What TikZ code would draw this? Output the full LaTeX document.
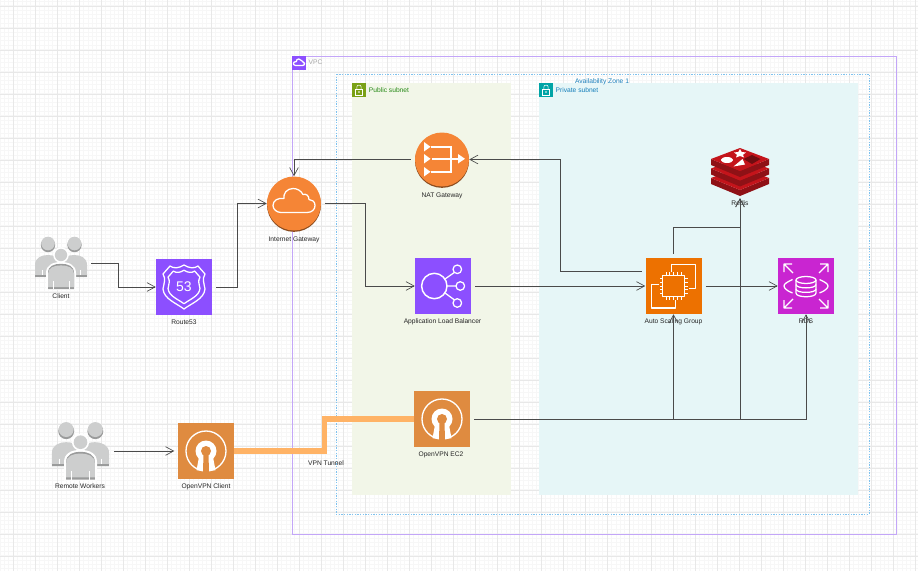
\documentclass[tikz,border=0pt]{standalone}
\usepackage{fontspec}
\usepackage{xcolor}
\setmainfont{Liberation Sans}
\usetikzlibrary{arrows.meta}

\definecolor{gridmajor}{HTML}{E8E8E8}
\definecolor{gridminor}{HTML}{F7F7F7}
\definecolor{awspurple}{HTML}{8C4FFF}
\definecolor{awsorange}{HTML}{F58536}
\definecolor{awsbrown}{HTML}{8A4B1E}
\definecolor{asgorange}{HTML}{ED7100}
\definecolor{rdspink}{HTML}{C925D1}
\definecolor{vpnorange}{HTML}{DF8B40}
\definecolor{tunnelorange}{HTML}{FFB366}
\definecolor{vpcline}{HTML}{C3A6F8}
\definecolor{azblue}{HTML}{7FC2EE}
\definecolor{publicfill}{HTML}{F2F6E8}
\definecolor{publicicon}{HTML}{7AA116}
\definecolor{publictext}{HTML}{248814}
\definecolor{privatefill}{HTML}{E6F6F7}
\definecolor{privateicon}{HTML}{00A4A6}
\definecolor{privatetext}{HTML}{147EBA}
\definecolor{peoplegrey}{HTML}{CDCECE}
\definecolor{peopledark}{HTML}{9A9B9B}
\definecolor{redisred}{HTML}{C4141B}
\definecolor{redisdark}{HTML}{8F1116}
\definecolor{redisdeep}{HTML}{6F0D10}
\definecolor{linkgrey}{HTML}{4A4A4A}

\tikzset{
  iconpic/.style={yscale=-1},
  iconbox/.style={rectangle,minimum size=42pt,inner sep=0pt},
  roundicon/.style={circle,fill=awsorange,minimum size=40.5pt,inner sep=0pt,
    preaction={fill=awsbrown,transform canvas={yshift=-1pt}}},
  cornerbox/.style={rectangle,minimum size=10.5pt,inner sep=0pt},
  groupbox/.style={rectangle,minimum width=39pt,minimum height=39pt,inner sep=0pt},
  lbl/.style={font=\fontsize{5}{6}\selectfont,text=black!85,inner sep=0pt},
  link/.style={draw=linkgrey,line width=0.65pt,shorten <=3pt,-{Straight Barb[length=6pt,width=6.5pt,line width=0.5pt]}},
  tunnel/.style={draw=tunnelorange,line width=4pt},
  whiteline/.style={draw=white,line width=0.95pt,fill=none,line join=round},
  cloudicon/.pic={
    \draw[whiteline] (-13,9) -- (13,9) .. controls (18,9) and (21,6) .. (21,2)
      .. controls (21,-2) and (18,-4) .. (15,-4) .. controls (15,-8) and (12,-10) .. (9,-9)
      .. controls (7,-13) and (3,-15) .. (-1,-15) .. controls (-7,-15) and (-11,-10) .. (-10,-5)
      .. controls (-16,-6) and (-21,-3) .. (-21,2) .. controls (-21,6) and (-17,9) .. (-13,9) -- cycle;
  },
  peopleicon/.pic={
    \fill[peopledark] (-13,-18) circle (7.2);
    \fill[peoplegrey] (-13,-19.5) circle (6.8);
    \fill[peopledark] (13.5,-18) circle (7.2);
    \fill[peoplegrey] (13.5,-19.5) circle (6.8);
    \fill[peoplegrey] (-26,14) -- (-26,2) .. controls (-26,-5) and (-20,-8) .. (-13,-8)
      .. controls (-6,-8) and (0,-5) .. (0,2) -- (0,14) -- cycle;
    \fill[peoplegrey] (26,14) -- (26,2) .. controls (26,-5) and (20,-8) .. (13,-8)
      .. controls (6,-8) and (0,-5) .. (0,2) -- (0,14) -- cycle;
    \fill[peopledark] (-26,12) rectangle (-6,14);
    \fill[peopledark] (6,12) rectangle (26,14);
    \fill[white] (0,-8) circle (7.8);
    \fill[white] (-15,27) -- (-15,10) .. controls (-15,2) and (-8,-1) .. (0,-1)
      .. controls (8,-1) and (15,2) .. (15,10) -- (15,27) -- cycle;
    \fill[peoplegrey] (0,-8) circle (6.2);
    \fill[peopledark] (-13,26) -- (-13,10) .. controls (-13,3) and (-7,0.8) .. (0,0.8)
      .. controls (7,0.8) and (13,3) .. (13,10) -- (13,26) -- cycle;
    \fill[peoplegrey] (-13,24) -- (-13,11) .. controls (-13,4.5) and (-7,2.4) .. (0,2.4)
      .. controls (7,2.4) and (13,4.5) .. (13,11) -- (13,24) -- cycle;
    \draw[white,line width=0.4pt] (-8,18) -- (-8,26) (8,18) -- (8,26) (-19,7) -- (-19,12) (19,7) -- (19,12);
  },
  shieldicon/.pic={
    \draw[whiteline] (-14,-21) .. controls (-10,-18) and (-5,-19) .. (0,-22)
      .. controls (5,-19) and (10,-18) .. (14,-21) -- (21,-13)
      .. controls (18,-8) and (20,-4) .. (21,2) .. controls (20,12) and (8,16) .. (0,22)
      .. controls (-8,16) and (-20,12) .. (-21,2) .. controls (-20,-4) and (-18,-8) .. (-21,-13) -- cycle;
    \draw[whiteline,scale=0.76] (-14,-21) .. controls (-10,-18) and (-5,-19) .. (0,-22)
      .. controls (5,-19) and (10,-18) .. (14,-21) -- (21,-13)
      .. controls (18,-8) and (20,-4) .. (21,2) .. controls (20,12) and (8,16) .. (0,22)
      .. controls (-8,16) and (-20,12) .. (-21,2) .. controls (-20,-4) and (-18,-8) .. (-21,-13) -- cycle;
  },
  naticon/.pic={
    \fill[white] (-18,-17.5) -- (-11.5,-12.7) -- (-18,-8) -- cycle;
    \fill[white] (-18,-5.5) -- (-11.5,-0.7) -- (-18,4) -- cycle;
    \fill[white] (-18,7.5) -- (-11.5,12.3) -- (-18,17) -- cycle;
    \draw[white,line width=1.6pt] (-11,-12.7) -- (8.7,-12.7) -- (8.7,12.3) -- (-11,12.3);
    \draw[white,line width=1.6pt] (-10,-0.7) -- (16,-0.7);
    \fill[white] (16,-5.5) -- (23,-0.7) -- (16,4) -- cycle;
  },
  albicon/.pic={
    \draw[whiteline,line width=1.1pt] (-8.7,0) circle (12.7);
    \draw[whiteline] (14.3,-16.7) circle (4.3) (17.3,0) circle (4.3) (14.3,17) circle (4.3);
    \draw[whiteline] (2,-7) -- (11.3,-13.5) (4,0) -- (13,0) (2,7) -- (11.3,13.8);
  },
  asgicon/.pic={
    \draw[whiteline] (-10.7,-10.7) rectangle (10.7,10.7);
    \foreach \pinpos in {-7.5,-3.75,0,3.75,7.5}{
      \draw[white,line width=0.6pt] (\pinpos,-10.7) -- (\pinpos,-14) (\pinpos,10.7) -- (\pinpos,14)
        (-10.7,\pinpos) -- (-14,\pinpos) (10.7,\pinpos) -- (14,\pinpos);
    }
    \draw[whiteline] (-1.7,-14) -- (-1.7,-21.3) -- (22.3,-21.3) -- (22.3,2.7) -- (15,2.7);
    \draw[whiteline] (-15,-1.7) -- (-21.7,-1.7) -- (-21.7,22) -- (2.3,22) -- (2.3,14.3);
  },
  rdsicon/.pic={
    \draw[whiteline] (-10,-6) -- (-10,7) .. controls (-10,12) and (10,12) .. (10,7) -- (10,-6);
    \draw[whiteline] (0,-6) ellipse (10 and 3.5);
    \draw[whiteline] (-10,-1.5) .. controls (-10,3) and (10,3) .. (10,-1.5);
    \draw[whiteline] (-10,3) .. controls (-10,7.5) and (10,7.5) .. (10,3);
    \draw[whiteline] (-13.5,-6.5) .. controls (-19,-4) and (-22,-2) .. (-22,0) .. controls (-22,2) and (-19,5) .. (-13.5,7);
    \draw[whiteline] (13.5,-6.5) .. controls (19,-4) and (22,-2) .. (22,0) .. controls (22,2) and (19,5) .. (13.5,7);
    \draw[whiteline] (-22,-14) -- (-22,-22) -- (-14,-22) (-22,-22) -- (-13,-13);
    \draw[whiteline] (22,-14) -- (22,-22) -- (14,-22) (22,-22) -- (13,-13);
    \draw[whiteline] (-22,14) -- (-22,22) -- (-14,22) (-22,22) -- (-13,13);
    \draw[whiteline] (22,14) -- (22,22) -- (14,22) (22,22) -- (13,13);
  },
  vpnicon/.pic={
    \draw[white,line width=1pt] (0,0) circle (20);
    \fill[white] (0,0) circle (10.5);
    \fill[white] (-7,6) -- (-9.5,19.2) .. controls (-4,20.2) and (4,20.2) .. (9.5,19.2) -- (7,6) -- cycle;
    \fill[vpnorange] (0,0) circle (5);
    \fill[vpnorange] (-2.5,3) -- (-3,21) -- (3,21) -- (2.5,3) -- cycle;
  },
  redisicon/.pic={
    \foreach \layerpos in {19,9.5,0}{
      \fill[redisdark] (-29,-13+\layerpos) -- (0,-1+\layerpos) -- (29,-13+\layerpos)
        -- (29,-7+\layerpos) -- (0,5+\layerpos) -- (-29,-7+\layerpos) -- cycle;
      \fill[redisred] (-29,-13+\layerpos) -- (0,-24+\layerpos) -- (29,-13+\layerpos) -- (0,-1+\layerpos) -- cycle;
    }
    \fill[white] (-13,-12) ellipse (6.2 and 3);
    \fill[white] (0,-23) -- (1.7,-20) -- (6,-19.5) -- (3,-17.3) -- (4,-14.5) -- (0,-16)
      -- (-4,-14.5) -- (-3,-17.3) -- (-6,-19.5) -- (-1.7,-20) -- cycle;
    \fill[white] (-6.5,-5.5) -- (5,-7.5) -- (2.5,-13) -- cycle;
    \fill[redisdeep] (12,-17) -- (20.5,-13) -- (12,-8) -- (3.5,-13) -- cycle;
  },
  lockicon/.pic={
    \draw[white,line width=0.4pt] (-3.5,-1) rectangle (3.5,5);
    \draw[white,line width=0.4pt] (-2.2,-1) -- (-2.2,-3) .. controls (-2.2,-5.5) and (2.2,-5.5) .. (2.2,-3) -- (2.2,-1);
    \fill[white] (0,2) circle (0.8);
  }
}

\begin{document}
\begin{tikzpicture}[x=0.75pt,y=0.75pt,yscale=-1,xscale=1]

\useasboundingbox (0,0) rectangle (918,571);

\foreach \gridx in {0,...,208}{
  \draw[gridminor,line width=0.6pt] ({4.4*\gridx},0) -- ({4.4*\gridx},571);
}

\foreach \gridy in {0,...,130}{
  \draw[gridminor,line width=0.6pt] (0,{1.1+4.4*\gridy}) -- (918,{1.1+4.4*\gridy});
}

\foreach \gridx in {0,...,41}{
  \draw[gridmajor,line width=0.75pt] ({13+22*\gridx},0) -- ({13+22*\gridx},571);
}

\foreach \gridy in {0,...,25}{
  \draw[gridmajor,line width=0.75pt] (0,{6+22*\gridy}) -- (918,{6+22*\gridy});
}

\draw[vpcline,line width=0.75pt] (292,56) rectangle (896,534);

\draw[azblue,line width=0.6pt,dash pattern=on 1pt off 1pt] (336,74) rectangle (869,514);

\fill[publicfill] (352,83) rectangle (511,495);

\fill[privatefill] (539,83) rectangle (858,495);

\node[cornerbox,fill=awspurple] (vpccorner) at (299,63) {};
\pic[iconpic,scale=0.27] at (vpccorner) {cloudicon};
\node[cornerbox,fill=publicicon] (publiccorner) at (359,90) {};
\pic[iconpic] at (publiccorner) {lockicon};
\node[cornerbox,fill=privateicon] (privatecorner) at (546,90) {};
\pic[iconpic] at (privatecorner) {lockicon};

\node[lbl,text=gray!70] (vpclabel) at (315.5,62.5) {VPC};
\node[lbl,text=privatetext] (zonelabel) at (602,82) {Availability Zone 1};
\node[lbl,text=publictext] (publiclabel) at (389,90.5) {Public subnet};
\node[lbl,text=privatetext] (privatelabel) at (577,90.5) {Private subnet};

\node[groupbox] (client) at (61,263) {};
\pic[iconpic] at (client) {peopleicon};
\node[lbl] (clientlabel) at (61,296.5) {Client};

\node[groupbox,minimum width=43.5pt] (workers) at (80.5,451) {};
\pic[iconpic,scale=1.1] at (workers) {peopleicon};
\node[lbl] (workerslabel) at (80,486.5) {Remote Workers};

\node[iconbox,fill=awspurple,text=white,font=\fontsize{10.5}{12}\selectfont] (route53) at (184,287) {53};
\pic[iconpic] at (route53) {shieldicon};
\node[lbl] (route53label) at (184,322.5) {Route53};

\node[roundicon] (igw) at (294,203.5) {};
\pic[iconpic] at (igw) {cloudicon};
\node[lbl] (igwlabel) at (294,239.5) {Internet Gateway};

\node[roundicon] (nat) at (442,159.5) {};
\pic[iconpic] at (nat) {naticon};
\node[lbl] (natlabel) at (442,195.5) {NAT Gateway};

\node[iconbox,fill=awspurple] (alb) at (443,286) {};
\pic[iconpic] at (alb) {albicon};
\node[lbl] (alblabel) at (442.5,321.5) {Application Load Balancer};

\node[iconbox,fill=asgorange] (asg) at (673.5,286) {};
\pic[iconpic] at (asg) {asgicon};
\node[lbl] (asglabel) at (673.5,321.5) {Auto Scaling Group};

\node[iconbox,fill=rdspink] (rds) at (806,286) {};
\pic[iconpic] at (rds) {rdsicon};
\node[lbl] (rdslabel) at (806,321.5) {RDS};

\node[groupbox] (redis) at (740,172) {};
\pic[iconpic] at (redis) {redisicon};
\node[lbl] (redislabel) at (740,203.5) {Redis};

\node[iconbox,fill=vpnorange] (vpnclient) at (206,451) {};
\pic[iconpic] at (vpnclient) {vpnicon};
\node[lbl] (vpnclientlabel) at (206,486.5) {OpenVPN Client};

\node[iconbox,fill=vpnorange] (vpnec2) at (442,419) {};
\pic[iconpic] at (vpnec2) {vpnicon};
\node[lbl] (vpnec2label) at (441,454.5) {OpenVPN EC2};

\node[lbl] (tunnellabel) at (326,463.5) {VPN Tunnel};

\coordinate (asgout) at (645.5,271.5);

\draw[tunnel] (vpnclient.east) -- ++(90,0) |- (vpnec2.west);

\draw[link] (client.east) -- ++(31,0) |- (route53.west);

\draw[link] (route53.east) -- ++(25,0) |- (igw.west);

\draw[link] (igw.east) -- ++(44,0) |- (alb.west);

\draw[link] (nat.west) -| (igw.north);

\draw[link] (alb.east) -- (asg.west);

\draw[link] (asgout) -- ++(-85.5,0) |- (nat.east);

\draw[link] (asg.east) -- (rds.west);

\draw[link] (asg.north) -- ++(0,-30) -| (redis.south);

\draw[link] (workers.east) -- ++(64.5,0);

\draw[link] (vpnec2.east) -| (asg.south);

\draw[link] (vpnec2.east) -| (redis.south);

\draw[link] (vpnec2.east) -| (rds.south);

\end{tikzpicture}
\end{document}
